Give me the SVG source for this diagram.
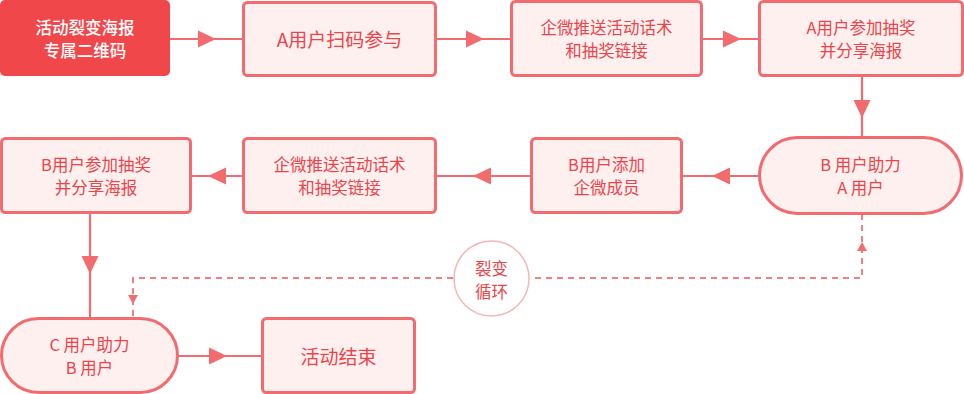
<svg xmlns="http://www.w3.org/2000/svg" width="964" height="394" viewBox="0 0 964 394">
<style>
.box{fill:#FFF0F0;stroke:#F26B6E;stroke-width:3}
.t{font-family:"Noto Sans CJK SC","Noto Sans",sans-serif;font-size:16.5px;fill:#EC4449;text-anchor:middle}
.big{font-size:19px}
.w{fill:#FFFFFF;font-weight:500}
.ln{stroke:#F26B6E;stroke-width:2.2;fill:none}
.dash{stroke:#F0585C;stroke-width:1.5;fill:none;stroke-dasharray:6 5}
.ah{fill:#F26B6E}
</style>
<defs>
<path id="ah" d="M0,-8.5 L18,0 L0,8.5 Z"/>
<path id="ahs" d="M0,-5 L9,0 L0,5 Z"/>
</defs>
<rect width="964" height="394" fill="#FFFFFF"/>
<g id="connectors">
<line class="ln" x1="170" y1="39" x2="243" y2="39"/>
<use href="#ah" class="ah" transform="translate(198,39)"/>
<line class="ln" x1="436" y1="39" x2="511" y2="39"/>
<use href="#ah" class="ah" transform="translate(466,39)"/>
<line class="ln" x1="702" y1="39" x2="759" y2="39"/>
<use href="#ah" class="ah" transform="translate(723,39)"/>
<line class="ln" x1="862" y1="76" x2="862" y2="138"/>
<use href="#ah" class="ah" transform="translate(862,100) rotate(90)"/>
<line class="ln" x1="759" y1="176" x2="682" y2="176"/>
<use href="#ah" class="ah" transform="translate(730,176) rotate(180)"/>
<line class="ln" x1="531" y1="176" x2="436" y2="176"/>
<use href="#ah" class="ah" transform="translate(491,176) rotate(180)"/>
<line class="ln" x1="243" y1="176" x2="190" y2="176"/>
<use href="#ah" class="ah" transform="translate(226,176) rotate(180)"/>
<line class="ln" x1="90" y1="213" x2="90" y2="318"/>
<use href="#ah" class="ah" transform="translate(90,256) rotate(90)"/>
<line class="ln" x1="178" y1="356" x2="262" y2="356"/>
<use href="#ah" class="ah" transform="translate(209,356)"/>
<polyline class="dash" points="862,214 862,278 530,278"/>
<use href="#ahs" class="ah" transform="translate(862,251) rotate(-90)"/>
<polyline class="dash" points="453,278 133,278 133,318"/>
<use href="#ahs" class="ah" transform="translate(133,295) rotate(90)"/>
</g>
<g id="n1">
<rect x="0" y="0" width="170" height="76" rx="5" fill="#F0474B"/>
<text class="t w" x="85" y="34">活动裂变海报</text>
<text class="t w" x="85" y="57">专属二维码</text>
</g>
<g id="n2">
<rect class="box" x="243.5" y="2.5" width="192" height="73" rx="4"/>
<text class="t big" x="339.5" y="47">A用户扫码参与</text>
</g>
<g id="n3">
<rect class="box" x="511.5" y="1.5" width="190" height="74" rx="4"/>
<text class="t" x="606.5" y="34">企微推送活动话术</text>
<text class="t" x="606.5" y="57">和抽奖链接</text>
</g>
<g id="n4">
<rect class="box" x="759.5" y="1.5" width="203" height="74" rx="4"/>
<text class="t" x="861" y="34">A用户参加抽奖</text>
<text class="t" x="861" y="57">并分享海报</text>
</g>
<g id="n5">
<rect class="box" x="759.5" y="137.5" width="202" height="76" rx="38"/>
<text class="t" x="860.5" y="171">B 用户助力</text>
<text class="t" x="860.5" y="194">A 用户</text>
</g>
<g id="n6">
<rect class="box" x="531.5" y="138.5" width="150" height="74" rx="4"/>
<text class="t" x="606.5" y="171">B用户添加</text>
<text class="t" x="606.5" y="194">企微成员</text>
</g>
<g id="n7">
<rect class="box" x="243.5" y="138.5" width="192" height="74" rx="4"/>
<text class="t" x="339.5" y="171">企微推送活动话术</text>
<text class="t" x="339.5" y="194">和抽奖链接</text>
</g>
<g id="n8">
<rect class="box" x="1.5" y="138.5" width="189" height="74" rx="4"/>
<text class="t" x="96" y="171">B用户参加抽奖</text>
<text class="t" x="96" y="194">并分享海报</text>
</g>
<g id="n9">
<rect class="box" x="1.5" y="318.5" width="176" height="74" rx="37"/>
<text class="t" x="89.5" y="351">C 用户助力</text>
<text class="t" x="89.5" y="374">B 用户</text>
</g>
<g id="n10">
<rect class="box" x="262.5" y="318.5" width="152" height="74" rx="4"/>
<text class="t big" x="338.5" y="364">活动结束</text>
</g>
<g id="n11">
<circle cx="491.5" cy="278.5" r="37.5" fill="#FFFFFF" stroke="#F7B5B5" stroke-width="1.5"/>
<text class="t" x="491.5" y="275">裂变</text>
<text class="t" x="491.5" y="298">循环</text>
</g>
</svg>
